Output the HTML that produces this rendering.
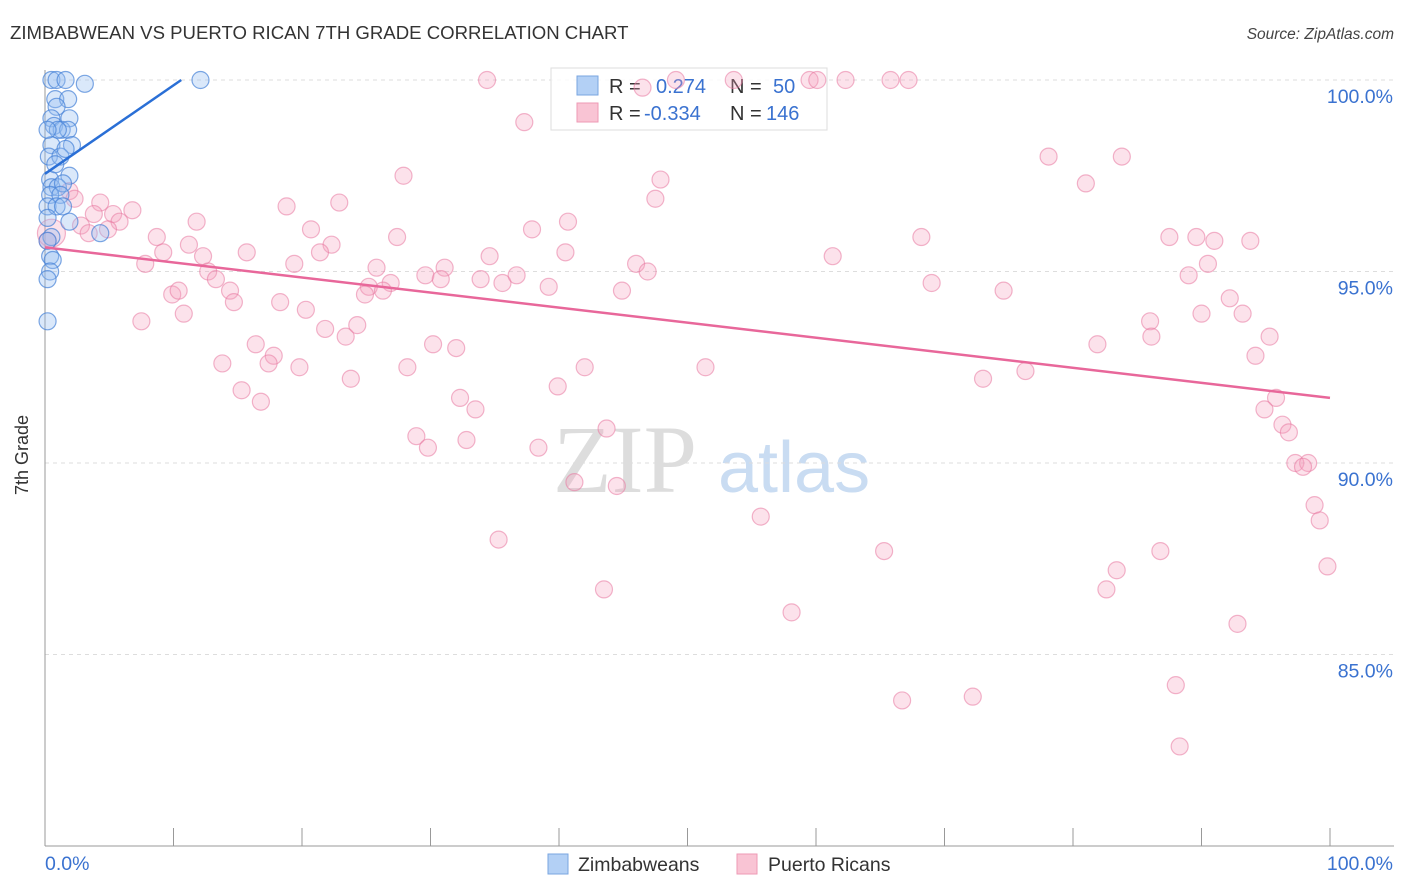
<!DOCTYPE html>
<html><head><meta charset="utf-8"><style>
body{margin:0;background:#fff;font-family:"Liberation Sans",sans-serif}
svg{display:block}
</style></head><body>
<svg id="c" width="1406" height="892" xmlns="http://www.w3.org/2000/svg">
<text x="10" y="39" font-size="18.6" fill="#333">ZIMBABWEAN VS PUERTO RICAN 7TH GRADE CORRELATION CHART</text>
<text x="1394" y="39" font-size="15.5" fill="#444" font-style="italic" text-anchor="end">Source: ZipAtlas.com</text>
<text x="28" y="455" font-size="18" fill="#333" text-anchor="middle" transform="rotate(-90 28 455)">7th Grade</text>
<g><text x="553" y="492" font-size="96" font-family="Liberation Serif,serif" fill="#ddd">ZIP</text><text x="718" y="492" font-size="72" fill="#c9dcf2">atlas</text></g>
<g id="grid"></g><g id="axes"></g>
<g>
<rect x="551" y="68" width="276" height="62" fill="#fff" fill-opacity="0.85" stroke="#ddd"/>
<rect x="577" y="76" width="21" height="19" fill="#b3d0f5" stroke="#7aa6e0"/>
<rect x="577" y="103" width="21" height="19" fill="#f9c4d4" stroke="#ee9ab5"/>
<text x="609" y="93" font-size="20" fill="#333">R = </text><text x="656" y="93" font-size="20" fill="#3a72d0">0.274</text>
<text x="730" y="93" font-size="20" fill="#333">N = </text><text x="773" y="93" font-size="20" fill="#3a72d0">50</text>
<text x="609" y="120" font-size="20" fill="#333">R = </text><text x="644" y="120" font-size="20" fill="#3a72d0">-0.334</text>
<text x="730" y="120" font-size="20" fill="#333">N = </text><text x="766" y="120" font-size="20" fill="#3a72d0">146</text>
</g>
<g id="pts"></g><g id="lines"></g>
<g>
<rect x="548" y="854" width="20" height="20" fill="#b3d0f5" stroke="#7aa6e0"/><text x="578" y="871" font-size="19.5" fill="#333">Zimbabweans</text>
<rect x="737" y="854" width="20" height="20" fill="#f9c4d4" stroke="#ee9ab5"/><text x="768" y="871" font-size="19.5" fill="#333">Puerto Ricans</text>
</g>
</svg>
<script>
const yTicks=[100,95,90,85];
const yTickLabels=["100.0%","95.0%","90.0%","85.0%"];
const xTickLabels=["0.0%","100.0%"];
const blueX=[0.5,0.9,1.6,3.1,12.1,0.8,1.8,0.9,0.5,1.9,0.7,1.3,1.8,1.0,0.5,2.1,0.3,1.2,1.6,1.9,0.4,0.5,1.0,1.4,0.4,1.2,0.2,0.9,1.4,1.9,4.3,0.5,0.2,0.4,0.6,0.4,0.2,0.2,0.2,0.8,0.2];
const blueY=[100,100,100,99.9,100,99.5,99.5,99.3,99.0,99.0,98.8,98.7,98.7,98.7,98.3,98.3,98.0,98.0,98.2,97.5,97.4,97.2,97.2,97.3,97.0,97.0,96.7,96.7,96.7,96.3,96.0,95.9,95.8,95.4,95.3,95.0,94.8,93.7,96.4,97.8,98.7];
const pinkX=[34.4,46.5,49.1,53.6,59.5,60.1,62.3,65.8,67.2,37.3,78.1,83.8,81.0,27.9,47.9,47.5,18.8,22.9,1.9,2.3,4.3,5.3,6.8,3.8,5.8,2.8,11.8,3.4,4.9,40.7,37.9,20.7,27.4,8.7,11.2,15.7,22.3,21.4,9.2,7.8,12.3,34.6,40.5,46.0,46.9,68.2,89.6,91.0,93.8,87.5,61.3,19.4,25.8,31.1,12.7,13.3,29.6,30.8,33.9,35.6,36.7,26.9,25.2,26.3,24.9,39.2,44.9,69.0,74.6,90.5,89.0,92.2,90.0,93.2,9.9,10.4,14.4,14.7,18.3,20.3,10.8,7.5,86.0,86.1,95.3,94.2,21.8,23.4,24.3,16.4,30.2,32.0,81.9,17.8,13.8,17.4,19.8,28.2,42.0,51.4,23.8,73.0,76.3,15.3,16.8,39.9,32.3,33.5,95.8,94.9,96.3,96.8,43.7,28.9,29.8,32.8,38.4,97.3,98.3,97.9,41.2,44.5,98.8,99.2,55.7,35.3,65.3,86.8,99.8,83.4,82.6,43.5,58.1,92.8,66.7,72.2,88.0,88.3,0.5,0.2];
const pinkY=[100,99.8,100,100,100,100,100,100,100,98.9,98.0,98.0,97.3,97.5,97.4,96.9,96.7,96.8,97.1,96.9,96.8,96.5,96.6,96.5,96.3,96.2,96.3,96.0,96.1,96.3,96.1,96.1,95.9,95.9,95.7,95.5,95.7,95.5,95.5,95.2,95.4,95.4,95.5,95.2,95.0,95.9,95.9,95.8,95.8,95.9,95.4,95.2,95.1,95.1,95.0,94.8,94.9,94.8,94.8,94.7,94.9,94.7,94.6,94.5,94.4,94.6,94.5,94.7,94.5,95.2,94.9,94.3,93.9,93.9,94.4,94.5,94.5,94.2,94.2,94.0,93.9,93.7,93.7,93.3,93.3,92.8,93.5,93.3,93.6,93.1,93.1,93.0,93.1,92.8,92.6,92.6,92.5,92.5,92.5,92.5,92.2,92.2,92.4,91.9,91.6,92.0,91.7,91.4,91.7,91.4,91.0,90.8,90.9,90.7,90.4,90.6,90.4,90.0,90.0,89.9,89.5,89.4,88.9,88.5,88.6,88.0,87.7,87.7,87.3,87.2,86.7,86.7,86.1,85.8,83.8,83.9,84.2,82.6,96.0,95.8];
const blueTrendX=[0,10.6], blueTrendY=[97.55,100];
const pinkTrendX=[0,100], pinkTrendY=[95.63,91.7];
const NS="http://www.w3.org/2000/svg";
const X=v=>45+v*12.85, Y=v=>80+(100-v)*38.3;
function mk(t,a,p){const e=document.createElementNS(NS,t);for(const k in a)e.setAttribute(k,a[k]);document.getElementById(p).appendChild(e);return e;}
yTicks.forEach((t,i)=>{
 const l=mk('line',{x1:45,x2:1394,y1:Y(t),y2:Y(t),stroke:'#ddd','stroke-dasharray':'4,4'},'grid');
 
 
 const tx=mk('text',{x:1393,y:Y(t)+23,'font-size':19.5,fill:'#3a72d0','text-anchor':'end'},'axes');tx.textContent=yTickLabels[i];
 
 
});
let a=mk('line',{x1:45,x2:45,y1:70,y2:846,stroke:'#999'},'axes');


a=mk('line',{x1:45,x2:1394,y1:846,y2:846,stroke:'#999'},'axes');


for(let i=0;i<=10;i++){const t=mk('line',{x1:X(i*10),x2:X(i*10),y1:828,y2:846,stroke:'#999'},'axes');
 
 }
let t0=mk('text',{x:45,y:870,'font-size':19.5,fill:'#3a72d0'},'axes');t0.textContent=xTickLabels[0];


t0=mk('text',{x:1393,y:870,'font-size':19.5,fill:'#3a72d0','text-anchor':'end'},'axes');t0.textContent=xTickLabels[1];


pinkX.forEach((x,i)=>{const big=(i===pinkX.length-2);
 const c=mk('circle',{cx:X(x),cy:Y(pinkY[i]),r:big?14:8.5,fill:'rgba(244,160,190,0.3)',stroke:'rgba(232,120,160,0.55)','stroke-width':1.2},'pts');
 
 });
blueX.forEach((x,i)=>{const c=mk('circle',{cx:X(x),cy:Y(blueY[i]),r:8.5,fill:'rgba(150,190,240,0.35)',stroke:'rgba(70,130,215,0.7)','stroke-width':1.2},'pts');
 
 });
let ln=mk('line',{x1:X(blueTrendX[0]),y1:Y(blueTrendY[0]),x2:X(blueTrendX[1]),y2:Y(blueTrendY[1]),stroke:'#2a6fd6','stroke-width':2.5},'lines');


ln=mk('line',{x1:X(pinkTrendX[0]),y1:Y(pinkTrendY[0]),x2:X(pinkTrendX[1]),y2:Y(pinkTrendY[1]),stroke:'#e8679a','stroke-width':2.5},'lines');


</script>
</body></html>
